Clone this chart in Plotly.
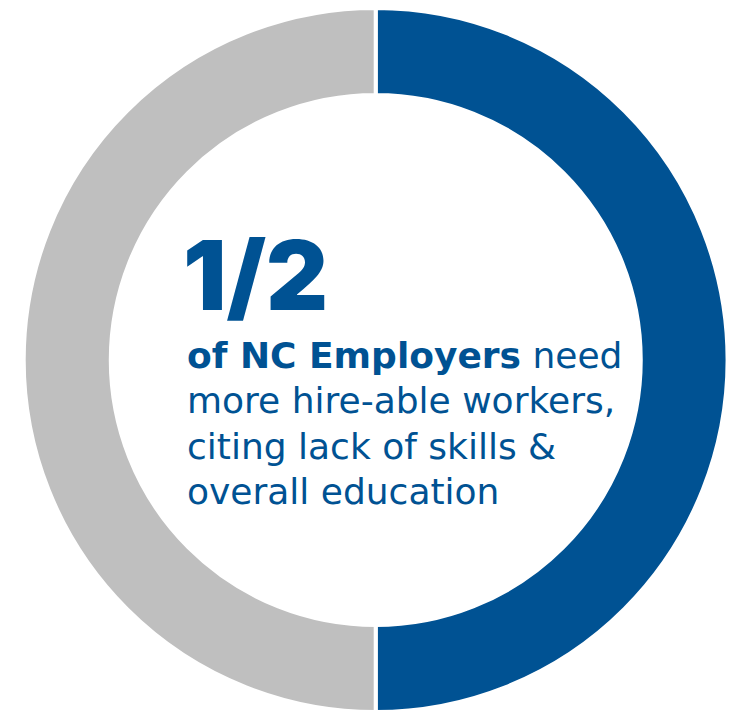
import plotly.graph_objects as go

segments = ["NC Employers needing more hire-able workers", "Other"]
shares = [50, 50]
colors = ["#005293", "#BFBFBF"]

headline = "1/2"
body_lines = [
    "<b>of NC Employers</b> need",
    "more hire-able workers,",
    "citing lack of skills &",
    "overall education",
]

# The page body keeps its default 8px margin, so the figure is sized to fill the rest.
W, H = 735, 704
fig = go.Figure()
fig.add_trace(go.Pie(
    labels=segments, values=shares, hole=0.753, sort=False,
    direction="clockwise", rotation=0,
    marker=dict(colors=colors, line=dict(color="white", width=4)),
    textinfo="none", hoverinfo="label+percent", showlegend=False,
    domain=dict(x=[15.7 / W, 719.7 / W], y=[0, 1]),
))

blue = colors[0]
fig.add_annotation(
    text=headline, x=173 / W, y=1 - 267 / H,
    xref="paper", yref="paper", xanchor="left", yanchor="middle",
    showarrow=False,
    font=dict(family="Inter, sans-serif", size=96, color=blue, weight=900),
)
body_centers = [347, 392.5, 438, 483]
for line, cy in zip(body_lines, body_centers):
    fig.add_annotation(
        text=line, x=177 / W, y=1 - cy / H,
        xref="paper", yref="paper", xanchor="left", yanchor="middle",
        showarrow=False, font=dict(family="DejaVu Sans, sans-serif", size=36, color=blue),
    )

fig.update_layout(
    width=W, height=H, margin=dict(l=0, r=0, t=0, b=0),
    paper_bgcolor="white", plot_bgcolor="white",
)
fig.write_html("out.html")
